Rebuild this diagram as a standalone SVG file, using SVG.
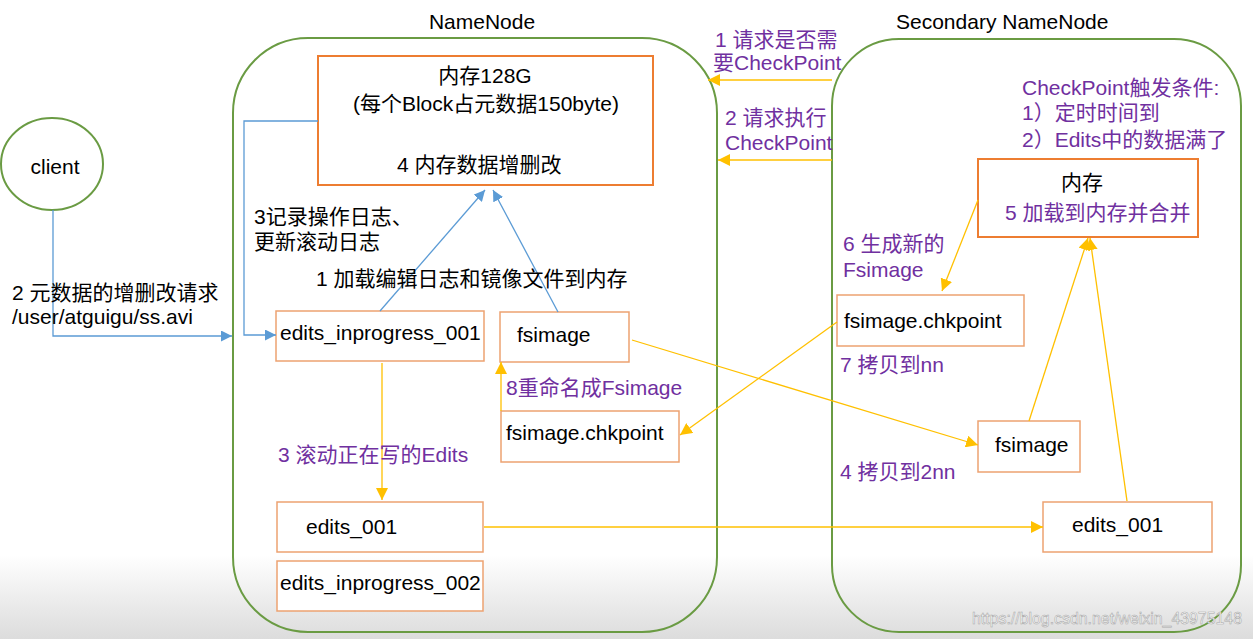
<svg xmlns="http://www.w3.org/2000/svg" width="1253" height="639" viewBox="0 0 1253 639">
<defs>
<linearGradient id="bg" x1="0" y1="0" x2="0" y2="1">
<stop offset="0" stop-color="#ffffff"/>
<stop offset="1" stop-color="#dcdcdc"/>
</linearGradient>
<marker id="ao" viewBox="0 0 10 10" refX="10" refY="5" markerWidth="12" markerHeight="12" markerUnits="userSpaceOnUse" orient="auto">
<path d="M0,0 L10,5 L0,10 z" fill="#FFC000"/>
</marker>
<marker id="ab" viewBox="0 0 10 10" refX="10" refY="5" markerWidth="11" markerHeight="11" markerUnits="userSpaceOnUse" orient="auto">
<path d="M0,0 L10,5 L0,10 z" fill="#5B9BD5"/>
</marker>
</defs>
<style>
text{font-family:"Liberation Sans","Noto Sans CJK SC",sans-serif;font-size:21px;fill:#000}
.p{fill:#7030A0}
.c{text-anchor:middle}
.cont{fill:none;stroke:#6A9B43;stroke-width:2}
.mem{fill:#fff;stroke:#ED7D31;stroke-width:2}
.box{fill:#fff;stroke:#EDA271;stroke-width:1.5}
.bl{fill:none;stroke:#5B9BD5;stroke-width:1.3;marker-end:url(#ab)}
.or{fill:none;stroke:#FFC000;stroke-width:1.3;marker-end:url(#ao)}
.wm{font-size:17px;fill:#ffffff;stroke:#a8a8a8;stroke-width:0.6}
</style>
<rect x="0" y="0" width="1253" height="639" fill="#ffffff"/>
<rect x="0" y="555" width="1253" height="84" fill="url(#bg)"/>

<g id="client">
<ellipse cx="52" cy="164" rx="51" ry="46" fill="none" stroke="#6A9B43" stroke-width="2"/>
<text x="55" y="174" class="c">client</text>
</g>

<g id="namenode">
<rect x="233" y="38" width="484" height="594" rx="75" ry="75" class="cont"/>
<text x="482" y="29" class="c">NameNode</text>
</g>

<g id="secondary-namenode">
<rect x="832" y="39" width="409" height="593" rx="67" ry="67" class="cont"/>
<text x="896" y="29">Secondary NameNode</text>
</g>

<g id="nn-memory">
<rect x="318" y="56" width="335" height="129" class="mem"/>
<text x="485" y="83" class="c">内存128G</text>
<text x="486" y="111" class="c">(每个Block占元数据150byte)</text>
<text x="397" y="172">4 内存数据增删改</text>
</g>

<g id="nn-edits-inprogress-001">
<rect x="276" y="311" width="208" height="50" class="box"/>
<text x="280" y="340">edits_inprogress_001</text>
</g>

<g id="nn-fsimage">
<rect x="500" y="312" width="129" height="50" class="box"/>
<text x="517" y="342">fsimage</text>
</g>

<g id="nn-fsimage-chkpoint">
<rect x="501" y="411" width="178" height="51" class="box"/>
<text x="506" y="440">fsimage.chkpoint</text>
</g>

<g id="nn-edits-001">
<rect x="277" y="502" width="206" height="50" class="box"/>
<text x="306" y="534">edits_001</text>
</g>

<g id="nn-edits-inprogress-002">
<rect x="277" y="561" width="206" height="50" class="box"/>
<text x="280" y="590">edits_inprogress_002</text>
</g>

<g id="snn-memory">
<rect x="978" y="159" width="220" height="78" class="mem"/>
<text x="1082" y="190" class="c">内存</text>
<text x="1005" y="220" class="p">5 加载到内存并合并</text>
</g>

<g id="snn-fsimage-chkpoint">
<rect x="837" y="295" width="187" height="51" class="box"/>
<text x="844" y="328">fsimage.chkpoint</text>
</g>

<g id="snn-fsimage">
<rect x="978" y="421" width="102" height="51" class="box"/>
<text x="995" y="452">fsimage</text>
</g>

<g id="snn-edits-001">
<rect x="1043" y="502" width="169" height="50" class="box"/>
<text x="1072" y="532">edits_001</text>
</g>

<g id="connectors">
<polyline points="53,210 53,336 232,336" class="bl"/>
<polyline points="318,121 244,121 244,335 276,335" class="bl"/>
<line x1="380" y1="311" x2="485" y2="190" class="bl"/>
<line x1="558" y1="312" x2="493" y2="190" class="bl"/>
<line x1="832" y1="80" x2="708" y2="80" class="or"/>
<line x1="832" y1="160" x2="718" y2="160" class="or"/>
<line x1="382" y1="363" x2="382" y2="500" class="or"/>
<line x1="501" y1="411" x2="501" y2="362" class="or"/>
<line x1="632" y1="340" x2="978" y2="445" class="or"/>
<line x1="837" y1="322" x2="680" y2="435" class="or"/>
<line x1="484" y1="527" x2="1043" y2="527" class="or"/>
<line x1="978" y1="200" x2="942" y2="291" class="or"/>
<line x1="1029" y1="421" x2="1088" y2="238" class="or"/>
<line x1="1127" y1="501" x2="1090" y2="238" class="or"/>
</g>

<g id="labels">
<text x="12" y="300">2 元数据的增删改请求</text>
<text x="12" y="324">/user/atguigu/ss.avi</text>
<text x="254" y="224">3记录操作日志、</text>
<text x="254" y="249">更新滚动日志</text>
<text x="316" y="286">1 加载编辑日志和镜像文件到内存</text>
<text x="506" y="395" class="p">8重命名成Fsimage</text>
<text x="278" y="462" class="p">3 滚动正在写的Edits</text>
<text x="715" y="47" class="p">1 请求是否需</text>
<text x="713" y="70" class="p">要CheckPoint</text>
<text x="725" y="125" class="p">2 请求执行</text>
<text x="725" y="150" class="p">CheckPoint</text>
<text x="1022" y="95" class="p">CheckPoint触发条件:</text>
<text x="1022" y="120" class="p">1）定时时间到</text>
<text x="1022" y="147" class="p">2）Edits中的数据满了</text>
<text x="843" y="251" class="p">6 生成新的</text>
<text x="843" y="277" class="p">Fsimage</text>
<text x="840" y="372" class="p">7 拷贝到nn</text>
<text x="840" y="479" class="p">4 拷贝到2nn</text>
<text x="972" y="624" class="wm" textLength="270" lengthAdjust="spacingAndGlyphs">https://blog.csdn.net/weixin_43975148</text>
</g>
</svg>
